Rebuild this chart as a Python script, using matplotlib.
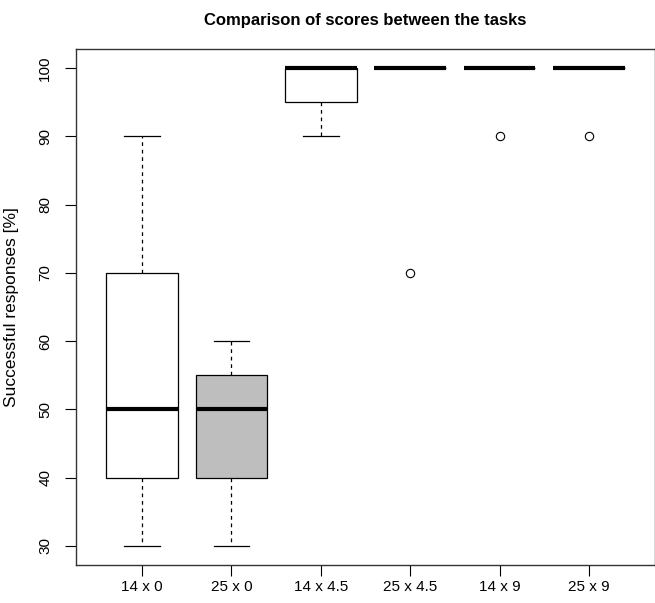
import matplotlib.pyplot as plt

tasks = ["14 x 0", "25 x 0", "14 x 4.5", "25 x 4.5", "14 x 9", "25 x 9"]
whislo = [30, 30, 90, 100, 100, 100]
q1 = [40, 40, 95, 100, 100, 100]
med = [50, 50, 100, 100, 100, 100]
q3 = [70, 55, 100, 100, 100, 100]
whishi = [90, 60, 100, 100, 100, 100]
fliers = [[], [], [], [70], [90], [90]]
fills = ["white", "#bebebe", "white", "white", "white", "white"]

plt.rcParams['font.family'] = ['Liberation Sans', 'DejaVu Sans']

fig = plt.figure(figsize=(6.55, 6.03), dpi=100)
ax = fig.add_axes([0.116, 0.063, 0.884, 0.856])

stats = []
for i in range(len(tasks)):
    stats.append(dict(label=tasks[i], whislo=whislo[i], q1=q1[i], med=med[i],
                      q3=q3[i], whishi=whishi[i], fliers=fliers[i]))

bp = ax.bxp(stats, positions=range(1, 7), widths=0.8, capwidths=0.4,
            patch_artist=True,
            boxprops=dict(edgecolor="black", linewidth=0.9),
            medianprops=dict(color="black", linewidth=3, solid_capstyle="butt"),
            whiskerprops=dict(color="black", linestyle=(0, (3, 3)), linewidth=0.9),
            capprops=dict(color="black", linewidth=0.9),
            flierprops=dict(marker="o", markerfacecolor="none", markeredgecolor="black",
                            markersize=6, markeredgewidth=0.8))
for patch, c in zip(bp["boxes"], fills):
    patch.set_facecolor(c)

ax.set_xlim(0.26, 6.74)
ax.set_ylim(27.2, 102.8)
ax.set_yticks([30, 40, 50, 60, 70, 80, 90, 100])
ax.set_xticks(range(1, 7))
ax.set_xticklabels(tasks)
ax.tick_params(axis="y", labelrotation=90, length=8, labelsize=11, pad=9)
ax.tick_params(axis="x", length=8, labelsize=11, pad=3)
for lab in ax.get_yticklabels():
    lab.set_verticalalignment("center")
for s in ax.spines.values():
    s.set_color("#333333")
    s.set_linewidth(1)

ax.set_ylabel("Successful responses [%]", fontsize=12.5, labelpad=14)
ax.set_title("Comparison of scores between the tasks", fontsize=12,
             fontweight="bold", pad=17)

fig.savefig("out.png")
